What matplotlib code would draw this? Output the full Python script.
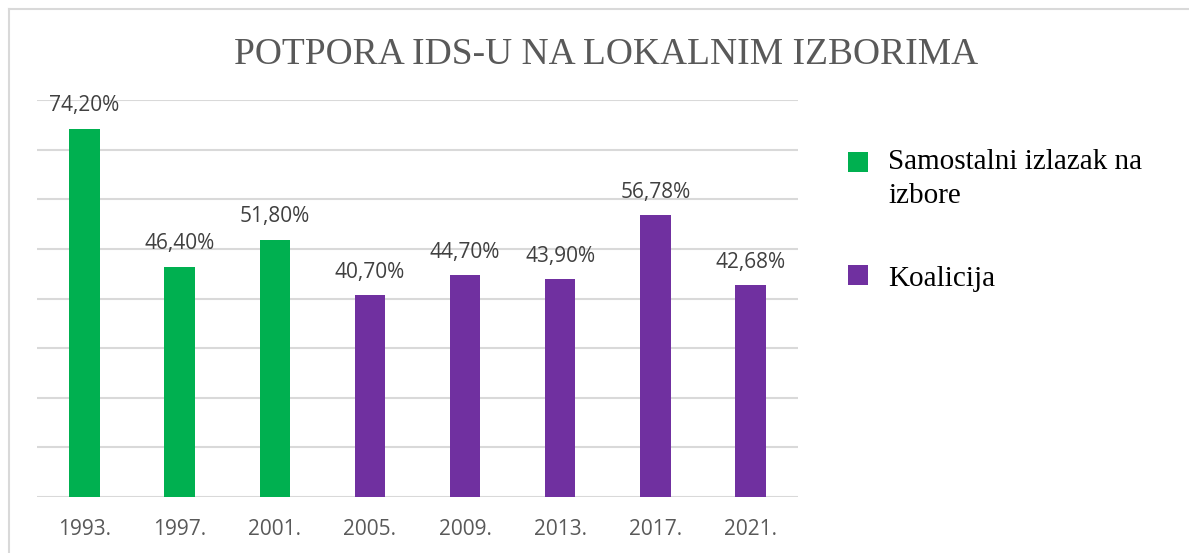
import matplotlib
matplotlib.use('Agg')
import matplotlib.pyplot as plt
from matplotlib.patches import Rectangle
from matplotlib.lines import Line2D

# Data
years = ['1993.', '1997.', '2001.', '2005.', '2009.', '2013.', '2017.', '2021.']
support = [74.20, 46.40, 51.80, 40.70, 44.70, 43.90, 56.78, 42.68]
labels = ['74,20%', '46,40%', '51,80%', '40,70%', '44,70%', '43,90%', '56,78%', '42,68%']
n_alone = 3  # first three elections: independent run
series_names = [['Samostalni izlazak na', 'izbore'], ['Koalicija']]

green = '#00B050'
purple = '#7030A0'
grid_col = '#D9D9D9'

W, H = 1189, 553
fig = plt.figure(figsize=(W / 100, H / 100), dpi=100)
ax = fig.add_axes([37/W, 1 - 497/H, (798 - 37)/W, (497 - 100)/H])

x = list(range(len(years)))
width = 0.32
ax.bar(x[:n_alone], support[:n_alone], width, color=green, zorder=3)
ax.bar(x[n_alone:], support[n_alone:], width, color=purple, zorder=3)

for xi, val, lab in zip(x, support, labels):
    ax.annotate(lab, xy=(xi, val), xytext=(0, 9), textcoords='offset points',
                ha='center', va='bottom', fontsize=15, family='Open Sans',
                color='#404040')

ax.set_xlim(-0.5, len(years) - 0.5)
ax.set_ylim(0, 80)
ax.set_yticks(range(0, 81, 10))
ax.set_yticklabels([])
ax.tick_params(axis='y', length=0)
ax.set_xticks(x)
ax.set_xticklabels(years, fontsize=15, family='Open Sans', color='#595959')
ax.tick_params(axis='x', length=0, pad=16)
ax.grid(axis='y', color=grid_col, linewidth=1.5, zorder=0)
for s in ax.spines.values():
    s.set_visible(False)

fig.text(606/W, 1 - 55/H, 'POTPORA IDS-U NA LOKALNIM IZBORIMA',
         ha='center', va='center', fontsize=27, family='Liberation Serif',
         color='#595959')

# legend drawn by hand so the swatch sits on the first text line
legend_items = [(green, 152, [169, 203]), (purple, 265, [286])]
for (col, sq_top, baselines), lines in zip(legend_items, series_names):
    fig.add_artist(Rectangle((848/W, 1 - (sq_top + 20)/H), 20/W, 20/H,
                             facecolor=col, edgecolor='none',
                             transform=fig.transFigure))
    for bl, txt in zip(baselines, lines):
        fig.text(888/W, 1 - bl/H, txt, ha='left', va='baseline',
                 fontsize=21, family='Liberation Serif', color='black')

# light frame around the chart area
fig.add_artist(Line2D([9/W, 1], [1 - 9/H, 1 - 9/H], color=grid_col, lw=1.5))
fig.add_artist(Line2D([9/W, 9/W], [0, 1 - 9/H], color=grid_col, lw=1.5))

fig.savefig('out.png', dpi=100)
